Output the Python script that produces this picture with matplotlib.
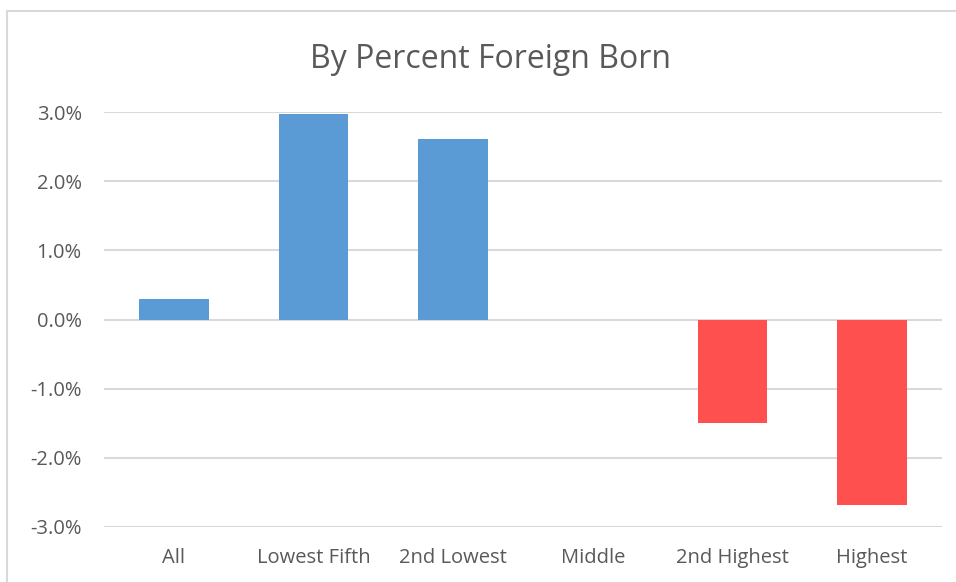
import matplotlib.pyplot as plt
from matplotlib.patches import Rectangle
from matplotlib.ticker import FuncFormatter

categories = ["All", "Lowest Fifth", "2nd Lowest", "Middle", "2nd Highest", "Highest"]
values = [0.29, 2.97, 2.61, 0.0, -1.49, -2.68]
yticks = [-3, -2, -1, 0, 1, 2, 3]

blue = "#5B9BD5"
red = "#FF5050"
text_col = "#595959"
grid_col = "#D9D9D9"

plt.rcParams["font.family"] = ["Open Sans", "DejaVu Sans"]

fig = plt.figure(figsize=(9.56, 5.82), dpi=100)
ax = fig.add_axes([104 / 956, 1 - 527 / 582, 838 / 956, 415 / 582])

colors = [blue if v >= 0 else red for v in values]
x = range(len(categories))
ax.bar(x, values, width=0.5, color=colors, zorder=2)

ax.set_xlim(-0.5, len(categories) - 0.5)
ax.set_ylim(-3, 3)
ax.set_yticks(yticks)
ax.yaxis.set_major_formatter(FuncFormatter(lambda v, p: f"{v:.1f}%"))
ax.set_xticks(list(x))
ax.set_xticklabels(categories)
ax.grid(axis="y", color=grid_col, linewidth=1.5, zorder=3)
ax.tick_params(axis="both", length=0, labelsize=14.5, colors=text_col)
ax.tick_params(axis="y", pad=16)
ax.tick_params(axis="x", pad=15)
for s in ax.spines.values():
    s.set_visible(False)

fig.text(490 / 956, 1 - 59 / 582, "By Percent Foreign Born", ha="center", va="center",
         fontsize=23, color=text_col)

# chart frame (right and bottom edges run off the image)
fig.patches.append(Rectangle((7 / 956, -0.1), 1.2, 1 - 11 / 582 + 0.1, transform=fig.transFigure,
                             fill=False, edgecolor=grid_col, linewidth=1.5))

fig.savefig("out.png", dpi=100)
